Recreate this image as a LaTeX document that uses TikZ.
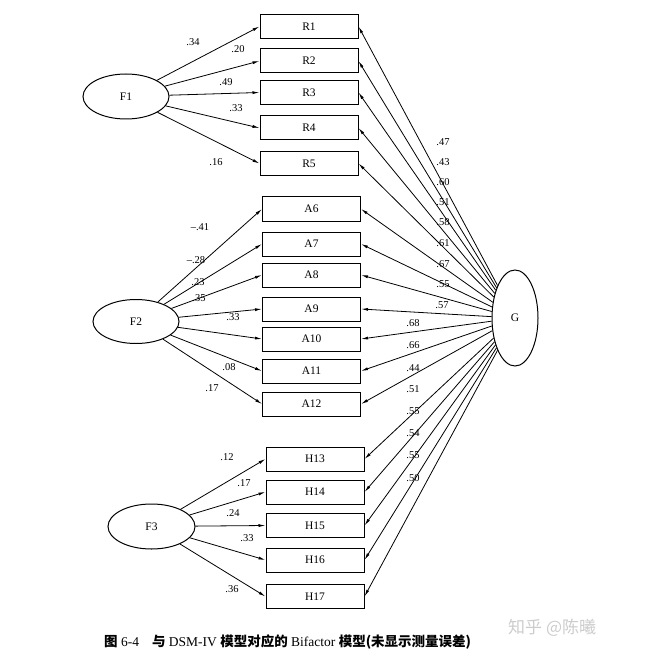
\documentclass[tikz,border=0pt]{standalone}
\usepackage{fontspec}
\setmainfont{Liberation Serif}
\newfontfamily\cjk{Noto Sans CJK SC}
\usetikzlibrary{shapes.geometric,arrows.meta}
\tikzset{
  obs/.style={draw,line width=1pt,minimum width=98pt,minimum height=24pt,inner sep=0pt,font=\fontsize{11.5}{11.5}\selectfont},
  lat/.style={draw,line width=1pt,ellipse,inner sep=0pt,font=\fontsize{11.5}{11.5}\selectfont},
  ld/.style={line width=0.8pt,-{Latex[length=7pt,width=3pt]}},
  lab/.style={font=\fontsize{10.5}{10.5}\selectfont,inner sep=0pt}
}
\begin{document}
\begin{tikzpicture}[x=1pt,y=-1pt]
\useasboundingbox (0,0) rectangle (659,660);
% latent
\node[lat,minimum width=86pt,minimum height=45pt] (F1) at (126,96.5) {F1};
\node[lat,minimum width=86pt,minimum height=44pt] (F2) at (136,321.5) {F2};
\node[lat,minimum width=87pt,minimum height=45pt] (F3) at (151.5,526.5) {F3};
\node[lat,minimum width=46pt,minimum height=96pt] (G) at (515,318) {G};
% observed
\node[obs] (R1) at (309,26.5) {R1};
\node[obs] (R2) at (309,61) {R2};
\node[obs] (R3) at (309,92.5) {R3};
\node[obs] (R4) at (309,128) {R4};
\node[obs] (R5) at (309,163.5) {R5};
\node[obs] (A6) at (311.5,209) {A6};
\node[obs] (A7) at (311.5,244) {A7};
\node[obs] (A8) at (311.5,275) {A8};
\node[obs] (A9) at (311.5,309) {A9};
\node[obs] (A10) at (311.5,339) {A10};
\node[obs] (A11) at (311.5,371) {A11};
\node[obs] (A12) at (311.5,404) {A12};
\node[obs] (H13) at (315,459) {H13};
\node[obs] (H14) at (315,492) {H14};
\node[obs] (H15) at (315,525.5) {H15};
\node[obs] (H16) at (315,560) {H16};
\node[obs] (H17) at (315,596.5) {H17};
% specific loadings
\foreach \b in {R1,R2,R3,R4,R5} \draw[ld] (F1) -- (\b.west);
\foreach \b in {A6,A7,A8,A9,A10,A11,A12} \draw[ld] (F2) -- (\b.west);
\foreach \b in {H13,H14,H15,H16,H17} \draw[ld] (F3) -- (\b.west);
\foreach \b in {R1,R2,R3,R4,R5,A6,A7,A8,A9,A10,A11,A12,H13,H14,H15,H16,H17} \draw[ld] (G) -- (\b.east);
% labels F1
\node[lab] (l1) at (193,42) {.34};
\node[lab] (l2) at (238,49) {.20};
\node[lab] (l3) at (226,82) {.49};
\node[lab] (l4) at (236,108) {.33};
\node[lab] (l5) at (216,162) {.16};
% labels F2
\node[lab] (l6) at (200,227) {–.41};
\node[lab] (l7) at (196,260) {–.28};
\node[lab] (l8) at (198,282) {.23};
\node[lab] (l9) at (199,298) {.35};
\node[lab] (l10) at (233,317) {.33};
\node[lab] (l11) at (229,367) {.08};
\node[lab] (l12) at (212,388) {.17};
% labels F3
\node[lab] (l13) at (227,457) {.12};
\node[lab] (l14) at (244,483) {.17};
\node[lab] (l15) at (233,513) {.24};
\node[lab] (l16) at (247,538) {.33};
\node[lab] (l17) at (232,589) {.36};
% labels G
\node[lab] (g1) at (443,142) {.47};
\node[lab] (g2) at (443,162) {.43};
\node[lab] (g3) at (443,182) {.60};
\node[lab] (g4) at (443,202) {.51};
\node[lab] (g5) at (443,222) {.58};
\node[lab] (g6) at (443,243) {.61};
\node[lab] (g7) at (443,264) {.67};
\node[lab] (g8) at (443,284) {.55};
\node[lab] (g9) at (442,305) {.57};
\node[lab] (g10) at (413,323) {.68};
\node[lab] (g11) at (413,345) {.66};
\node[lab] (g12) at (413,368) {.44};
\node[lab] (g13) at (413,389) {.51};
\node[lab] (g14) at (413,411) {.55};
\node[lab] (g15) at (413,433) {.54};
\node[lab] (g16) at (413,455) {.55};
\node[lab] (g17) at (413,478) {.50};
% caption
\node[anchor=west,inner sep=0pt,font=\fontsize{13.5}{13.5}\selectfont] (cap) at (104,642)
  {{\cjk\bfseries 图} 6-4\hspace{13pt}{\cjk\bfseries 与} DSM-IV {\cjk\bfseries 模型对应的} Bifactor {\cjk\bfseries 模型(未显示测量误差)}};
\node[anchor=west,inner sep=0pt,text=black!20,font=\cjk\fontsize{17}{17}\selectfont] (wm) at (508,628) {知乎 @陈曦};
\end{tikzpicture}
\end{document}
